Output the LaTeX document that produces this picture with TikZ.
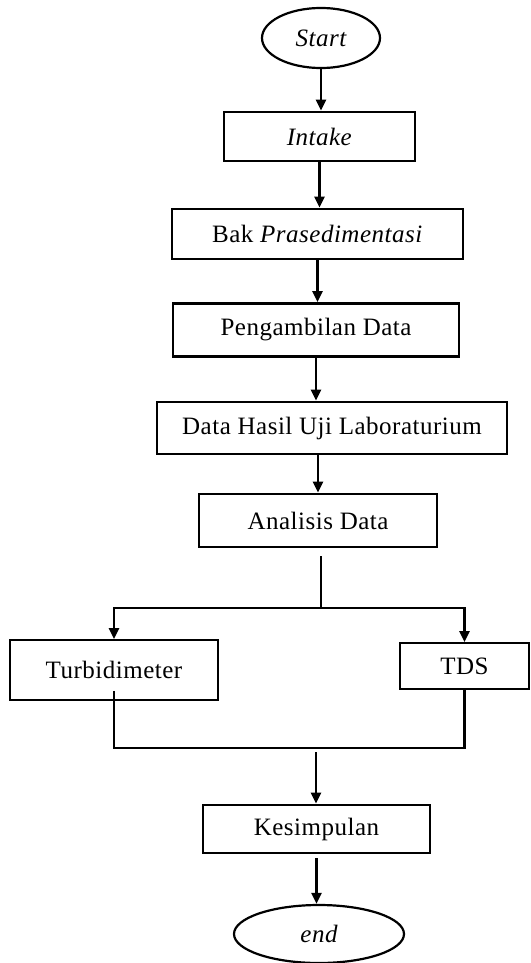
\documentclass[tikz,border=0pt]{standalone}
\usepackage{fontspec}
\setmainfont[LetterSpace=2]{Liberation Serif}
\usetikzlibrary{shapes.geometric,positioning,arrows.meta}

\begin{document}
\begin{tikzpicture}[x=0.5pt, y=-0.5pt,
  box/.style={draw, line width=1.4pt, align=center, font=\fontsize{12.5}{14}\selectfont,
              inner sep=2pt},
  thin box/.style={box, line width=0.9pt},
  term/.style={draw, ellipse, line width=1.1pt, font=\fontsize{12.5}{14}\selectfont\itshape,
               inner sep=1pt},
  ar/.style={-{Triangle[length=5.5pt, width=5pt]}, line width=1.2pt},
  ln/.style={line width=1.1pt}
]
  \useasboundingbox (0,0) rectangle (530,963);

  \node[term, minimum width=59pt, minimum height=30pt]  (start) at (321,38)  {Start};
  \node[box, minimum width=95.5pt, minimum height=24.5pt] (intake) at (319.5,136.5) {\textit{Intake}};
  \node[box, minimum width=145.5pt, minimum height=25pt] (bak)   at (317.5,234) {Bak \textit{Prasedimentasi}};
  \node[box, minimum width=143pt, minimum height=26.5pt] (peng)  at (316,330)   {Pengambilan Data};
  \node[box, minimum width=175pt, minimum height=26pt]   (hasil) at (332,428)   {Data Hasil Uji Laboraturium};
  \node[box, minimum width=119pt, minimum height=26.5pt] (ana)   at (318,520.5) {Analisis Data};

  \node[thin box, minimum width=104pt, minimum height=30pt]  (turb) at (114,670)   {Turbidimeter};
  \node[thin box, minimum width=64.5pt, minimum height=23pt] (tds)  at (464.5,666) {TDS};

  \node[box, minimum width=113.5pt, minimum height=24pt] (kes) at (316.5,829) {Kesimpulan};
  \node[term, minimum width=85pt, minimum height=29pt]   (end) at (319,934)   {end};

  \coordinate (fork) at (321,608);
  \coordinate (join) at (316,748);

  \draw[ar] (start) -- (start |- intake.north);
  \draw[ar] (intake.south) -- (intake.south |- bak.north);
  \draw[ar] (bak.south) -- (bak.south |- peng.north);
  \draw[ar] (peng.south) -- (peng.south |- hasil.north);
  \draw[ar] (ana.north |- hasil.south) -- (ana.north);

  % split to the two measurements
  \draw[ln] ([yshift=-4pt]fork |- ana.south) -- (fork);
  \draw[ar] (fork) -| (turb.north);
  \draw[ar] (fork) -| (tds.north);

  % back together
  \draw[ln] ([yshift=5pt]turb.south) |- (join) -| (tds.south);
  \draw[ar] ([yshift=-2pt]join) -- (join |- kes.north);
  \draw[ar, shorten <=2pt] (kes.south) -- (kes.south |- end.north);

\end{tikzpicture}
\end{document}
